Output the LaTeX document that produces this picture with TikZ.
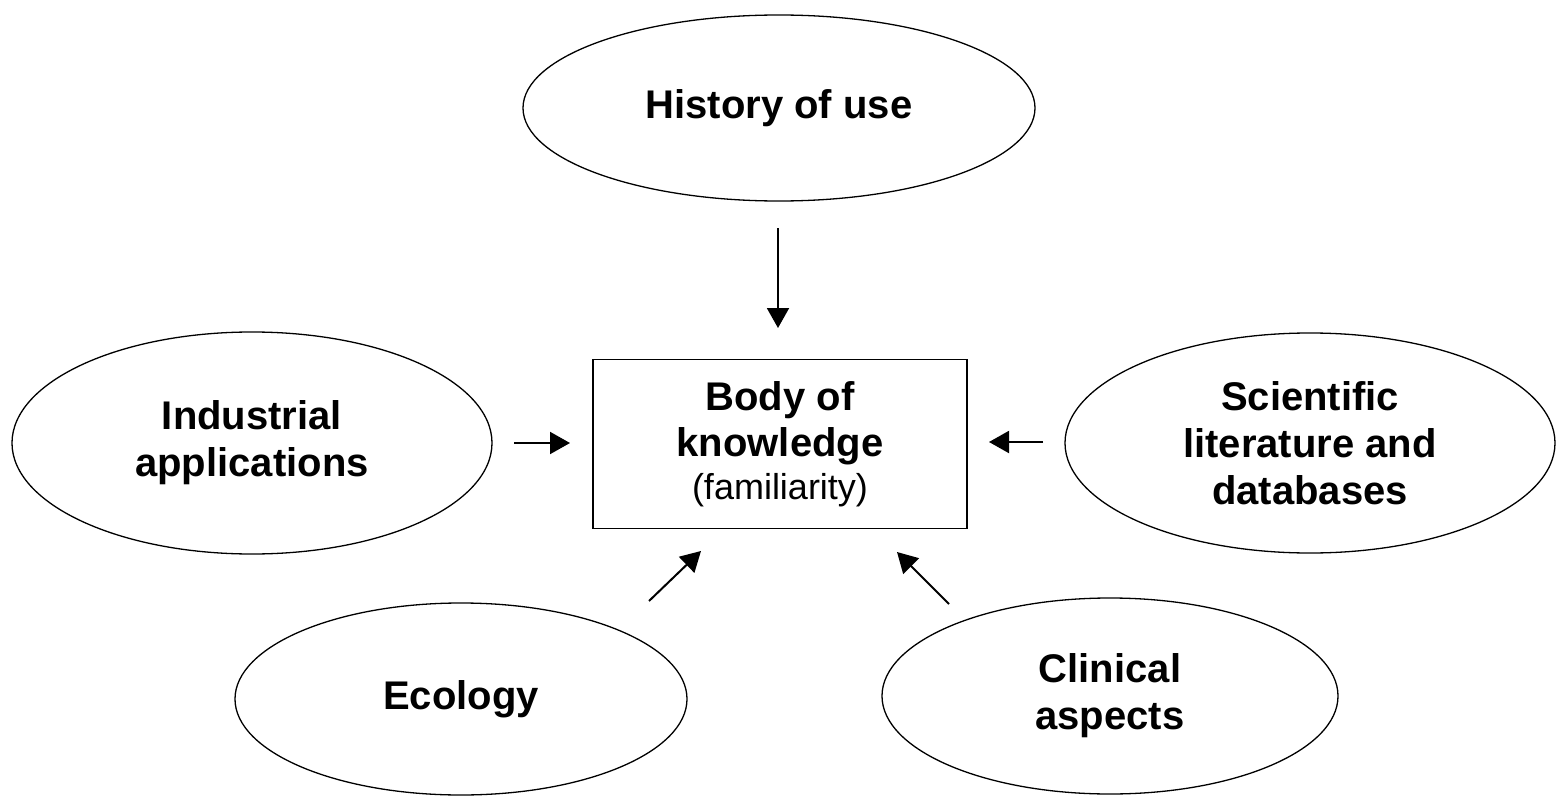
\documentclass[tikz,border=0pt]{standalone}
\usepackage{fontspec}
\setmainfont{Liberation Sans}
\usetikzlibrary{shapes.geometric,arrows.meta}
\begin{document}
\begin{tikzpicture}[x=1pt,y=-1pt,
  oval/.style={draw=black, line width=1.3pt, ellipse, inner sep=0pt, align=center,
    font=\fontsize{40}{47}\selectfont\bfseries},
  kbox/.style={draw=black, line width=1.5pt, rectangle, inner sep=0pt, align=center,
    minimum width=374pt, minimum height=169pt, font=\fontsize{40}{46}\selectfont\bfseries},
  arr/.style={line width=2pt, -{Triangle[length=20pt,width=22pt]}}
]
\useasboundingbox (0,0) rectangle (1556,797);
\node[oval, minimum width=512pt, minimum height=186pt] (hist) at (779,108) {History of use};
\node[oval, minimum width=480pt, minimum height=222pt] (ind) at (252,443) {Industrial\\applications};
\node[oval, minimum width=490pt, minimum height=220pt] (sci) at (1310,443) {Scientific\\literature and\\databases};
\node[oval, minimum width=452pt, minimum height=192pt] (eco) at (461,699) {Ecology};
\node[oval, minimum width=456pt, minimum height=196pt] (cli) at (1110,696) {Clinical\\aspects};
\node[kbox] (body) at (780,444) {Body of\\knowledge\\[-3pt]{\fontsize{36}{41}\selectfont\mdseries (familiarity)}};
\coordinate (a1s) at (778,228); \coordinate (a1e) at (778,328);
\coordinate (a2s) at (514,443); \coordinate (a2e) at (570,443);
\coordinate (a3s) at (1043,442); \coordinate (a3e) at (989,442);
\coordinate (a4s) at (649,601); \coordinate (a4e) at (701,551);
\coordinate (a5s) at (949,604); \coordinate (a5e) at (897,552);
\draw[arr] (a1s) -- (a1e);
\draw[arr] (a2s) -- (a2e);
\draw[arr] (a3s) -- (a3e);
\draw[arr] (a4s) -- (a4e);
\draw[arr] (a5s) -- (a5e);
\end{tikzpicture}
\end{document}
